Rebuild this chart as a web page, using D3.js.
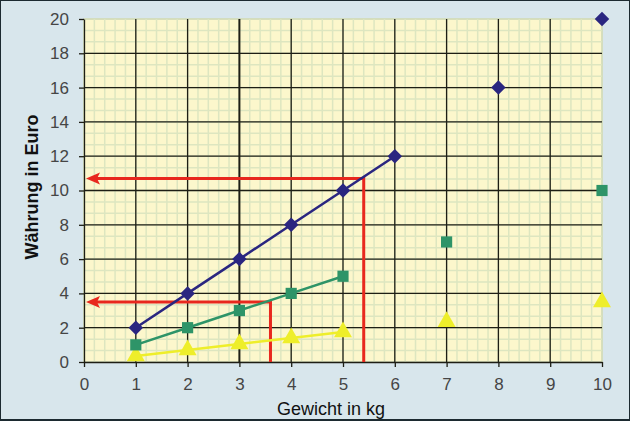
<!DOCTYPE html>
<html><head><meta charset="utf-8">
<script src="https://cdn.jsdelivr.net/npm/d3@7"></script>
<style>
html,body{margin:0;padding:0;background:#d8e6ec;}
svg{display:block;font-family:"Liberation Sans",Arial,sans-serif;}
</style></head>
<body>
<script>
const xTicks = [0,1,2,3,4,5,6,7,8,9,10];
const yTicks = [0,2,4,6,8,10,12,14,16,18,20];
// series: blue diamonds
const blueLineX = [1,2,3,4,5,6];
const blueLineY = [2,4,6,8,10,12];
const blueExtraX = [8,10];
const blueExtraY = [16,20];
// green squares
const greenLineX = [1,2,3,4,5];
const greenLineY = [1,2,3,4,5];
const greenExtraX = [7,10];
const greenExtraY = [7,10];
// yellow triangles
const yellowLineX = [1,2,3,4,5];
const yellowLineY = [0.35,0.7,1.05,1.4,1.75];
const yellowExtraX = [7,10];
const yellowExtraY = [2.35,3.5];
// red reading arrows: [xValue, yValue]
const arrows = [[5.4,10.7],[3.6,3.5]];

const W=630,H=421;
const m={l:84,t:19,r:28,b:59};
const pw=W-m.l-m.r, ph=H-m.t-m.b;
const x=d3.scaleLinear().domain([0,10]).range([m.l,m.l+pw]);
const y=d3.scaleLinear().domain([0,20]).range([m.t+ph,m.t]);

const svg=d3.select("body").append("svg").attr("width",W).attr("height",H);
svg.append("rect").attr("x",0.5).attr("y",0.5).attr("width",W-1).attr("height",H-1)
  .attr("fill","#d8e6ec").attr("stroke","#1c2a30").attr("stroke-width",1);
svg.append("rect").attr("x",0).attr("y",H-2).attr("width",W).attr("height",2).attr("fill","#1c2a30");

svg.append("rect").attr("x",m.l).attr("y",m.t).attr("width",pw).attr("height",ph)
  .attr("fill","#fcf7cc").attr("stroke","#9aa08a").attr("stroke-width",1);

// minor grid
const g=svg.append("g");
const minorX=d3.range(0,10.001,0.2);
g.selectAll(".mx").data(minorX).join("line")
  .attr("x1",d=>x(d)).attr("x2",d=>x(d)).attr("y1",m.t).attr("y2",m.t+ph)
  .attr("stroke","#dde6c0").attr("stroke-width",1.5);
const minorY=d3.range(0,20.001,2/3);
g.selectAll(".my").data(minorY).join("line")
  .attr("y1",d=>y(d)).attr("y2",d=>y(d)).attr("x1",m.l).attr("x2",m.l+pw)
  .attr("stroke","#dde6c0").attr("stroke-width",1.5);
// major grid
g.selectAll(".Mx").data(xTicks.filter(d=>d>0&&d<10)).join("line")
  .attr("x1",d=>x(d)).attr("x2",d=>x(d)).attr("y1",m.t).attr("y2",m.t+ph)
  .attr("stroke","#1e1e14").attr("stroke-width",d=>d===3?2:1.3);
g.selectAll(".My").data(yTicks.filter(d=>d>0&&d<20)).join("line")
  .attr("y1",d=>y(d)).attr("y2",d=>y(d)).attr("x1",m.l).attr("x2",m.l+pw)
  .attr("stroke","#1e1e14").attr("stroke-width",1.3);

// axes
const xa=svg.append("g").attr("transform",`translate(0,${m.t+ph})`)
  .call(d3.axisBottom(x).tickValues(xTicks).tickSize(5).tickPadding(11).tickSizeOuter(0));
const ya=svg.append("g").attr("transform",`translate(${m.l},0)`)
  .call(d3.axisLeft(y).tickValues(yTicks).tickSize(5).tickPadding(10).tickSizeOuter(0));
[xa,ya].forEach(a=>{
  a.select(".domain").attr("stroke","#1e1e14").attr("stroke-width",1.3);
  a.selectAll(".tick line").attr("stroke","#1e1e14").attr("stroke-width",1.3);
  a.selectAll("text").attr("font-size",17).attr("fill","#454545")
   .attr("font-family","'Liberation Sans',Arial,sans-serif");
});

svg.append("text").attr("x",331).attr("y",415).attr("text-anchor","middle")
  .attr("font-size",18).attr("fill","#111").text("Gewicht in kg");
svg.append("text").attr("transform",`translate(38,${187}) rotate(-90)`).attr("text-anchor","middle")
  .attr("font-size",18).attr("font-weight","bold").attr("fill","#111").text("Währung in Euro");

// red arrows
const red="#e8281e";
arrows.forEach(([ax,ay])=>{
  svg.append("path").attr("fill","none").attr("stroke",red).attr("stroke-width",3)
    .attr("d",`M${x(ax)},${y(0)}V${y(ay)}H${x(0)+12}`);
  svg.append("path").attr("fill",red)
    .attr("d",`M${x(0)+2},${y(ay)}L${x(0)+16},${y(ay)-6}L${x(0)+13},${y(ay)}L${x(0)+16},${y(ay)+6}Z`);
});

function series(xs,ys,ex,ey,color,sym,size,rot){
  const pts=xs.map((d,i)=>[d,ys[i]]);
  const ext=ex.map((d,i)=>[d,ey[i]]);
  svg.append("path").datum(pts).attr("fill","none").attr("stroke",color).attr("stroke-width",2.5)
    .attr("d",d3.line().x(d=>x(d[0])).y(d=>y(d[1])));
  svg.append("g").selectAll("path").data(pts.concat(ext)).join("path")
    .attr("transform",d=>`translate(${x(d[0])},${y(d[1])}) rotate(${rot})`)
    .attr("d",d3.symbol().type(sym).size(size)).attr("fill",color);
}
series(yellowLineX,yellowLineY,yellowExtraX,yellowExtraY,"#eeee2a",d3.symbolTriangle,140,0);
series(greenLineX,greenLineY,greenExtraX,greenExtraY,"#2e9468",d3.symbolSquare,125,0);
series(blueLineX,blueLineY,blueExtraX,blueExtraY,"#2a2680",d3.symbolSquare,105,45);
</script>
</body></html>
